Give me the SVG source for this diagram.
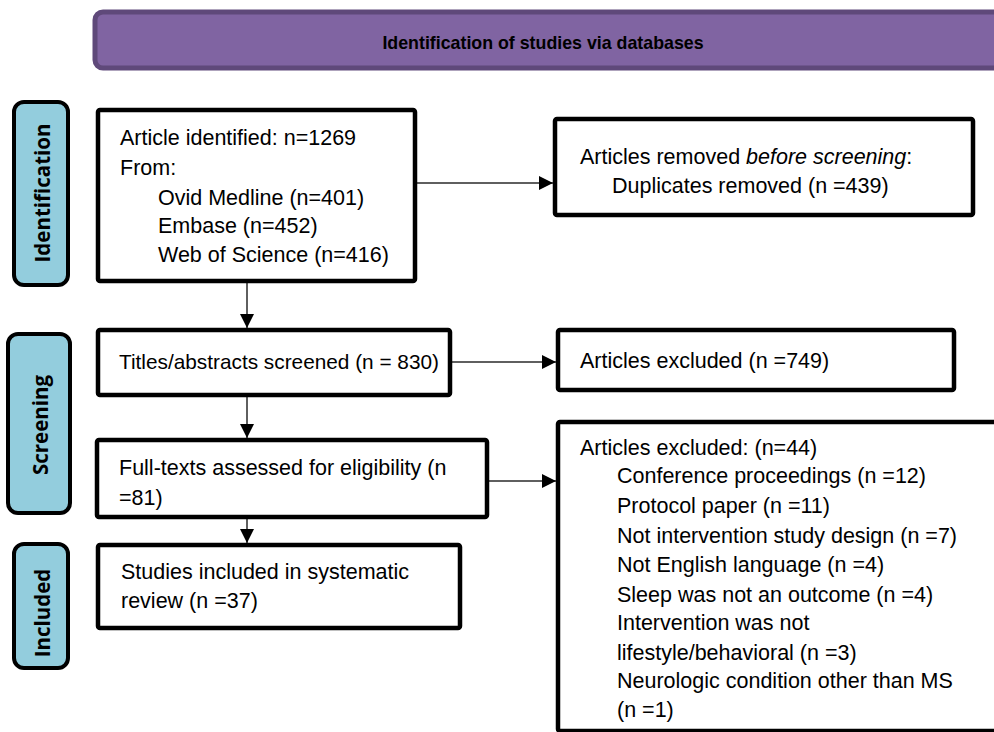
<svg xmlns="http://www.w3.org/2000/svg" width="994" height="732" viewBox="0 0 994 732">
  <defs>
    <style>
      .box { fill: #ffffff; stroke: #000000; stroke-width: 4.5; }
      .side { fill: #93CDDD; stroke: #000000; stroke-width: 4; }
      .t { font-family: "Liberation Sans", Arial, sans-serif; font-size: 21.5px; fill: #000000; }
      .sidet { font-family: "Open Sans", "Liberation Sans", sans-serif; font-size: 20.5px; font-weight: bold; fill: #000000; text-anchor: middle; dominant-baseline: central; }
      .hdt { font-family: "Liberation Sans", Arial, sans-serif; font-size: 17.8px; font-weight: bold; fill: #000000; text-anchor: middle; }
      .conn { stroke: #2a2a2a; stroke-width: 1.5; fill: none; marker-end: url(#arrow); }
    </style>
    <marker id="arrow" viewBox="0 0 14 14" refX="14" refY="7" markerWidth="14" markerHeight="14" markerUnits="userSpaceOnUse" orient="auto">
      <path d="M0,0 L14,7 L0,14 Z" fill="#000000"/>
    </marker>
  </defs>

  <g id="header">
    <rect x="95" y="12" width="920" height="56" rx="8" ry="8" fill="#8064A2" stroke="#5F497A" stroke-width="5"/>
    <text class="hdt" x="543" y="49">Identification of studies via databases</text>
  </g>

  <g id="phase-identification">
    <rect class="side" x="14" y="102" width="54" height="183" rx="10" ry="10"/>
    <text class="sidet" transform="translate(42,193) rotate(-90)">Identification</text>
  </g>
  <g id="phase-screening">
    <rect class="side" x="8" y="334" width="62" height="179" rx="10" ry="10"/>
    <text class="sidet" transform="translate(40,425) rotate(-90)">Screening</text>
  </g>
  <g id="phase-included">
    <rect class="side" x="14" y="544" width="54" height="124" rx="10" ry="10"/>
    <text class="sidet" transform="translate(42,613) rotate(-90)">Included</text>
  </g>

  <g id="connectors">
    <line class="conn" x1="417" y1="183" x2="553" y2="183"/>
    <line class="conn" x1="247" y1="283" x2="247" y2="328"/>
    <line class="conn" x1="452" y1="362" x2="556" y2="362"/>
    <line class="conn" x1="247" y1="397" x2="247" y2="438"/>
    <line class="conn" x1="489" y1="481" x2="556" y2="481"/>
    <line class="conn" x1="247" y1="519" x2="247" y2="543"/>
  </g>

  <g id="identified">
    <rect class="box" x="98" y="110" width="317" height="171" rx="2"/>
    <text class="t" x="120" y="145">Article identified: n=1269</text>
    <text class="t" x="120" y="175">From:</text>
    <text class="t" x="158" y="205">Ovid Medline (n=401)</text>
    <text class="t" x="158" y="233">Embase (n=452)</text>
    <text class="t" x="158" y="262">Web of Science (n=416)</text>
  </g>

  <g id="removed">
    <rect class="box" x="555" y="119" width="418" height="96" rx="2"/>
    <text class="t" x="580" y="164">Articles removed <tspan font-style="italic">before screening</tspan>:</text>
    <text class="t" x="612" y="193">Duplicates removed (n =439)</text>
  </g>

  <g id="screened">
    <rect class="box" x="98" y="330" width="352" height="65" rx="2"/>
    <text class="t" x="119" y="369" style="font-size:20.8px">Titles/abstracts screened (n = 830)</text>
  </g>

  <g id="excluded1">
    <rect class="box" x="558" y="330" width="396" height="60" rx="2"/>
    <text class="t" x="580" y="368">Articles excluded (n =749)</text>
  </g>

  <g id="fulltext">
    <rect class="box" x="97" y="440" width="390" height="77" rx="2"/>
    <text class="t" x="119" y="475">Full-texts assessed for eligibility (n</text>
    <text class="t" x="119" y="505">=81)</text>
  </g>

  <g id="excluded2">
    <rect class="box" x="558" y="422" width="450" height="309" rx="2"/>
    <text class="t" x="580" y="455">Articles excluded: (n=44)</text>
    <text class="t" x="617" y="483">Conference proceedings (n =12)</text>
    <text class="t" x="617" y="513">Protocol paper (n =11)</text>
    <text class="t" x="617" y="543">Not intervention study design (n =7)</text>
    <text class="t" x="617" y="572">Not English language (n =4)</text>
    <text class="t" x="617" y="602">Sleep was not an outcome (n =4)</text>
    <text class="t" x="617" y="630">Intervention was not</text>
    <text class="t" x="617" y="660">lifestyle/behavioral (n =3)</text>
    <text class="t" x="617" y="688">Neurologic condition other than MS</text>
    <text class="t" x="617" y="717">(n =1)</text>
  </g>

  <g id="included">
    <rect class="box" x="98" y="545" width="362" height="83" rx="2"/>
    <text class="t" x="121" y="579">Studies included in systematic</text>
    <text class="t" x="121" y="608">review (n =37)</text>
  </g>
</svg>
